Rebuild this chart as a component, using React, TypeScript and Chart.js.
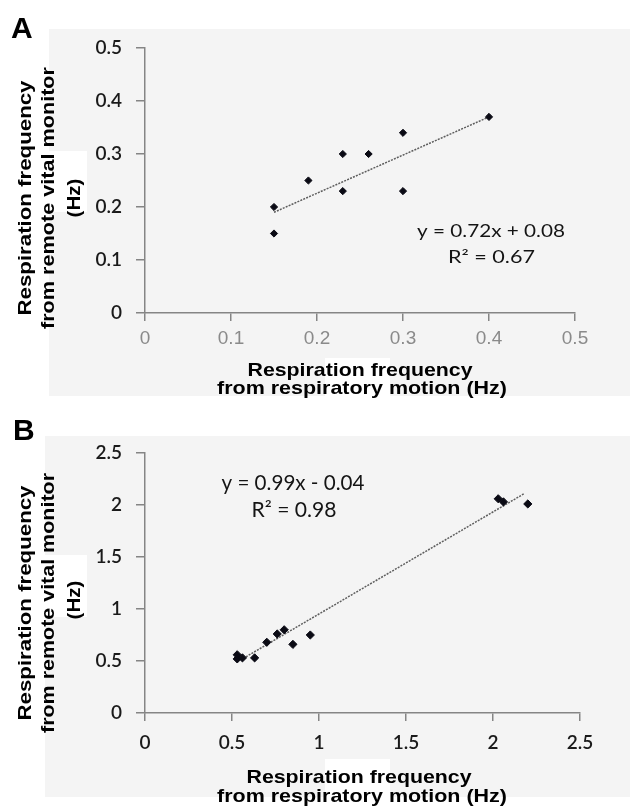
import React, { useEffect, useRef } from "react";
import { Chart, registerables } from "chart.js";

Chart.register(...registerables);

// ---------- Panel A data ----------
const aMotionHz = [0.15, 0.15, 0.19, 0.23, 0.23, 0.26, 0.3, 0.3, 0.4];
const aMonitorHz = [0.2, 0.15, 0.25, 0.3, 0.23, 0.3, 0.34, 0.23, 0.37];
const aTrendX = [0.15, 0.4];
const aTrendY = [0.19, 0.37];
const aXTickValues = [0, 0.1, 0.2, 0.3, 0.4, 0.5];
const aXTickLabels = ["0", "0.1", "0.2", "0.3", "0.4", "0.5"];
const aYTickValues = [0, 0.1, 0.2, 0.3, 0.4, 0.5];
const aYTickLabels = ["0", "0.1", "0.2", "0.3", "0.4", "0.5"];
const aEquation = ["y = 0.72x + 0.08", "R² = 0.67"];

// ---------- Panel B data ----------
const bMotionHz = [0.53, 0.53, 0.56, 0.63, 0.7, 0.76, 0.8, 0.85, 0.95, 2.03, 2.06, 2.2];
const bMonitorHz = [0.56, 0.52, 0.53, 0.53, 0.68, 0.76, 0.8, 0.66, 0.75, 2.06, 2.03, 2.01];
const bTrendX = [0.58, 2.18];
const bTrendY = [0.54, 2.11];
const bXTickValues = [0, 0.5, 1, 1.5, 2, 2.5];
const bXTickLabels = ["0", "0.5", "1", "1.5", "2", "2.5"];
const bYTickValues = [0, 0.5, 1, 1.5, 2, 2.5];
const bYTickLabels = ["0", "0.5", "1", "1.5", "2", "2.5"];
const bEquation = ["y = 0.99x - 0.04", "R² = 0.98"];

// ---------- shared text ----------
const xTitleLines = ["Respiration frequency", "from respiratory motion (Hz)"];
const yTitleLines = ["Respiration frequency", "from remote vital monitor", "(Hz)"];

type Spot = [number, number, number]; // cx, cy(baseline/center), width

interface PanelSpec {
  letter: string;
  letterPos: [number, number];
  height: number;
  pad: { left: number; top: number; right: number; bottom: number };
  gray: [number, number, number, number];
  whites: [number, number, number, number][];
  xTitleSpots: Spot[];
  yTitleSpots: Spot[];
  eqSpots: Spot[];
  eqSize: number;
  equation: string[];
  xs: number[];
  ys: number[];
  trendX: number[];
  trendY: number[];
  xTickValues: number[];
  xTickLabels: string[];
  yTickValues: number[];
  yTickLabels: string[];
  max: number;
  xTickColor: string;
  xTickFamily: string;
  xTickSize: number;
  xTickWeight: string;
  xTickPadding: number;
  pointRadius: number;
}

function fitText(
  ctx: CanvasRenderingContext2D,
  text: string,
  cx: number,
  cy: number,
  font: string,
  width: number,
  rot: number,
  baseline: CanvasTextBaseline
) {
  ctx.save();
  ctx.font = font;
  ctx.translate(cx, cy);
  if (rot) ctx.rotate(rot);
  const w = ctx.measureText(text).width;
  ctx.scale(width / w, 1);
  ctx.textAlign = "center";
  ctx.textBaseline = baseline;
  ctx.fillText(text, 0, 0);
  ctx.restore();
}

function buildConfig(spec: PanelSpec): any {
  const bgPlugin = {
    id: "panelBg",
    beforeDraw(chart: any) {
      const ctx = chart.ctx as CanvasRenderingContext2D;
      ctx.save();
      ctx.fillStyle = "#ffffff";
      ctx.fillRect(0, 0, chart.width, chart.height);
      ctx.fillStyle = "#f4f4f4";
      const [gx, gy, gw, gh] = spec.gray;
      ctx.fillRect(gx, gy, gw, gh);
      ctx.fillStyle = "#ffffff";
      spec.whites.forEach(([wx, wy, ww, wh]) => ctx.fillRect(wx, wy, ww, wh));
      ctx.restore();
    },
  };

  const textPlugin = {
    id: "panelText",
    afterDraw(chart: any) {
      const ctx = chart.ctx as CanvasRenderingContext2D;
      ctx.save();
      ctx.fillStyle = "#000000";
      ctx.font = "bold 30px 'Liberation Sans', Arial, sans-serif";
      ctx.textAlign = "left";
      ctx.textBaseline = "alphabetic";
      ctx.fillText(spec.letter, spec.letterPos[0], spec.letterPos[1]);

      const titleFont = "bold 19px 'Liberation Sans', Arial, sans-serif";
      xTitleLines.forEach((line, i) => {
        const [cx, cy, w] = spec.xTitleSpots[i];
        fitText(ctx, line, cx, cy, titleFont, w, 0, "alphabetic");
      });
      yTitleLines.forEach((line, i) => {
        const [cx, cy, w] = spec.yTitleSpots[i];
        fitText(ctx, line, cx, cy, titleFont, w, -Math.PI / 2, "middle");
      });

      ctx.fillStyle = "#141414";
      const eqFont = `${spec.eqSize}px Lato, 'Open Sans', sans-serif`;
      spec.equation.forEach((line, i) => {
        const [cx, cy, w] = spec.eqSpots[i];
        fitText(ctx, line, cx, cy, eqFont, w, 0, "alphabetic");
      });
      ctx.restore();
    },
  };

  const axisColor = "#858585";

  return {
    type: "scatter",
    data: {
      datasets: [
        {
          label: "points",
          data: spec.xs.map((x, i) => ({ x, y: spec.ys[i] })),
          pointStyle: "rectRot",
          pointRadius: spec.pointRadius,
          pointBackgroundColor: "#0a0a14",
          pointBorderColor: "#0a0a14",
          pointBorderWidth: 1,
          showLine: false,
          order: 0,
        },
        {
          type: "line",
          label: "trend",
          data: spec.trendX.map((x, i) => ({ x, y: spec.trendY[i] })),
          showLine: true,
          borderColor: "#5e5e5e",
          borderWidth: 1.5,
          borderDash: [2, 1.2],
          pointRadius: 0,
          fill: false,
          order: 1,
        },
      ],
    },
    options: {
      responsive: false,
      animation: false,
      events: [],
      layout: { padding: spec.pad },
      plugins: { legend: { display: false }, tooltip: { enabled: false } },
      scales: {
        x: {
          type: "linear",
          min: 0,
          max: spec.max,
          afterBuildTicks: (s: any) => {
            s.ticks = spec.xTickValues.map((v) => ({ value: v }));
          },
          afterFit: (s: any) => {
            s.height = 60;
          },
          ticks: {
            callback: (_v: any, i: number) => spec.xTickLabels[i],
            color: spec.xTickColor,
            font: { family: spec.xTickFamily, size: spec.xTickSize, weight: spec.xTickWeight },
            padding: spec.xTickPadding,
            maxRotation: 0,
            autoSkip: false,
          },
          grid: {
            drawOnChartArea: false,
            drawTicks: true,
            tickLength: 8,
            color: axisColor,
            lineWidth: 1.5,
          },
          border: { display: true, color: axisColor, width: 1.5 },
        },
        y: {
          type: "linear",
          min: 0,
          max: spec.max,
          afterBuildTicks: (s: any) => {
            s.ticks = spec.yTickValues.map((v) => ({ value: v }));
          },
          afterFit: (s: any) => {
            s.width = 145;
          },
          ticks: {
            callback: (_v: any, i: number) => spec.yTickLabels[i],
            color: "#1a1a1a",
            font: { family: "Lato, 'Open Sans', sans-serif", size: 19, weight: "600" },
            padding: 14,
            autoSkip: false,
          },
          grid: {
            drawOnChartArea: false,
            drawTicks: true,
            tickLength: 9,
            color: axisColor,
            lineWidth: 1.5,
          },
          border: { display: true, color: axisColor, width: 1.5 },
        },
      },
    },
    plugins: [bgPlugin, textPlugin],
  };
}

const specA: PanelSpec = {
  letter: "A",
  letterPos: [11, 38],
  height: 400,
  pad: { left: 0, top: 48, right: 55, bottom: 27 },
  gray: [49, 29, 581, 367],
  whites: [
    [49, 151, 38, 61],
    [325, 358, 65, 38],
  ],
  xTitleSpots: [
    [360, 376, 225],
    [362, 394, 290],
  ],
  yTitleSpots: [
    [26, 198, 235],
    [49, 198, 262],
    [75, 198, 39],
  ],
  eqSpots: [
    [491, 237, 148],
    [491.5, 263, 87],
  ],
  eqSize: 17,
  equation: aEquation,
  xs: aMotionHz,
  ys: aMonitorHz,
  trendX: aTrendX,
  trendY: aTrendY,
  xTickValues: aXTickValues,
  xTickLabels: aXTickLabels,
  yTickValues: aYTickValues,
  yTickLabels: aYTickLabels,
  max: 0.5,
  xTickColor: "#8a8a8a",
  xTickFamily: "'Liberation Sans', Arial, sans-serif",
  xTickSize: 19,
  xTickWeight: "normal",
  xTickPadding: 6,
  pointRadius: 3.6,
};

const specB: PanelSpec = {
  letter: "B",
  letterPos: [13, 40],
  height: 409,
  pad: { left: 0, top: 53, right: 50, bottom: 36 },
  gray: [45, 36, 585, 361],
  whites: [
    [45, 155, 42, 62],
    [325, 359, 65, 50],
  ],
  xTitleSpots: [
    [359, 383, 225],
    [362, 402, 290],
  ],
  yTitleSpots: [
    [26, 203, 235],
    [49, 203, 260],
    [75, 200, 39],
  ],
  eqSpots: [
    [293, 90, 143],
    [294, 117, 85],
  ],
  eqSize: 21,
  equation: bEquation,
  xs: bMotionHz,
  ys: bMonitorHz,
  trendX: bTrendX,
  trendY: bTrendY,
  xTickValues: bXTickValues,
  xTickLabels: bXTickLabels,
  yTickValues: bYTickValues,
  yTickLabels: bYTickLabels,
  max: 2.5,
  xTickColor: "#1a1a1a",
  xTickFamily: "Lato, 'Open Sans', sans-serif",
  xTickSize: 19,
  xTickWeight: "600",
  xTickPadding: 10,
  pointRadius: 4.1,
};

function Panel({ spec, top }: { spec: PanelSpec; top: number }) {
  const ref = useRef<HTMLCanvasElement | null>(null);
  useEffect(() => {
    if (!ref.current) return;
    const chart = new Chart(ref.current, buildConfig(spec));
    return () => chart.destroy();
  }, [spec]);
  return (
    <canvas
      ref={ref}
      width={630}
      height={spec.height}
      style={{ position: "absolute", left: 0, top, width: 630, height: spec.height }}
    />
  );
}

export default function App() {
  return (
    <div style={{ position: "absolute", left: 0, top: 0, width: 630, height: 809, background: "#fff" }}>
      <Panel spec={specA} top={0} />
      <Panel spec={specB} top={400} />
    </div>
  );
}
